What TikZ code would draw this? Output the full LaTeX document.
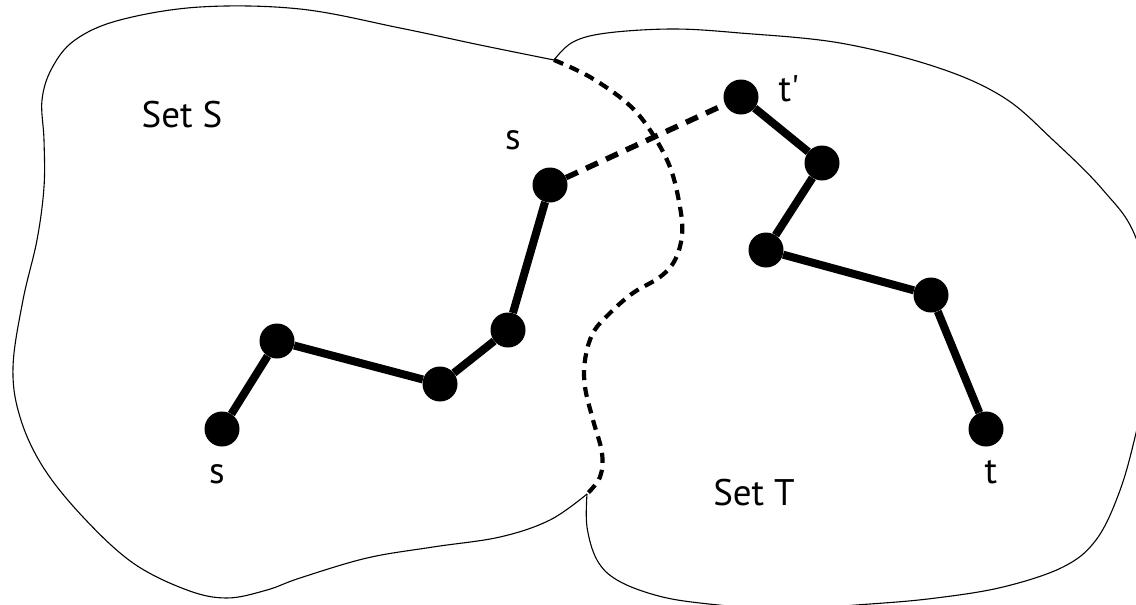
\documentclass[tikz,border=0pt]{standalone}
\usepackage{fontspec}
\setmainfont{PT Sans}
\newfontfamily\ptplain{PT Sans}
\begin{document}
\begin{tikzpicture}[x=1pt,y=-1pt,
  vtx/.style={circle,fill=black,inner sep=0pt,minimum size=35pt},
  lbl/.style={font=\fontsize{37}{40}\selectfont,inner sep=0pt},
  edge/.style={line width=8pt},
  cutedge/.style={line width=5.5pt,dash pattern=on 13pt off 9pt},
  border/.style={line width=1.1pt},
  cut/.style={line width=4.2pt,dash pattern=on 10pt off 7pt}]
\useasboundingbox (0,0) rectangle (1136,605);
\clip (0,0) rectangle (1136,605);
% Set S outline
\draw[border] plot[smooth,tension=0.6] coordinates {
 (554,60) (480,45) (400,28) (300,9) (200,7) (120,20) (75,40) (52,68) (42,100)
 (44,140) (44,187) (37,240) (23,300) (13,367) (20,417) (43,467) (83,517)
 (133,563) (187,590) (227,598) (267,590) (300,578) (367,558) (433,547)
 (500,537) (550,520) (587,494)};
% Set T outline
\draw[border] plot[smooth,tension=0.6] coordinates {
 (554,60) (573,42) (607,33) (673,29) (740,33) (840,43) (936,67) (1003,97)
 (1053,140) (1103,190) (1136,238) (1158,330) (1136,433) (1119,493) (1096,540)
 (1063,567) (1003,587) (936,598) (870,604) (780,609) (700,603) (655,595)
 (617,580) (597,560) (587,527) (587,494)};
% cut boundary
\draw[cut] plot[smooth,tension=0.6] coordinates {
 (554,60) (590,77) (627,103) (650,130) (670,167) (680,207) (682,235)
 (675,260) (660,277) (633,293) (610,313) (593,333) (585,360) (585,387)
 (593,420) (602,453) (600,477) (587,494)};
% vertices
\node[vtx] (s)  at (222,429) {};
\node[vtx] (a)  at (277,341) {};
\node[vtx] (b)  at (440,384) {};
\node[vtx] (c)  at (508,330) {};
\node[vtx] (sp) at (550,185) {};
\node[vtx] (tp) at (741,97) {};
\node[vtx] (d)  at (822,163) {};
\node[vtx] (e)  at (766,250) {};
\node[vtx] (f)  at (931,295) {};
\node[vtx] (t)  at (986,429) {};
% edges
\draw[edge] (s) -- (a) -- (b) -- (c) -- (sp);
\draw[edge] (tp) -- (d) -- (e) -- (f) -- (t);
\draw[cutedge] (sp) -- (tp);
% labels
\node[lbl] (ls)  at (217,474) {s};
\node[lbl] (lsp) at (513,140) {s};
\node[lbl] (ltp) at (789,89) {\ptplain t'};
\node[lbl] (lt)  at (991,472) {t};
\node[lbl] (setS) at (182,115) {Set S};
\node[lbl] (setT) at (754,493) {Set T};
\end{tikzpicture}
\end{document}
